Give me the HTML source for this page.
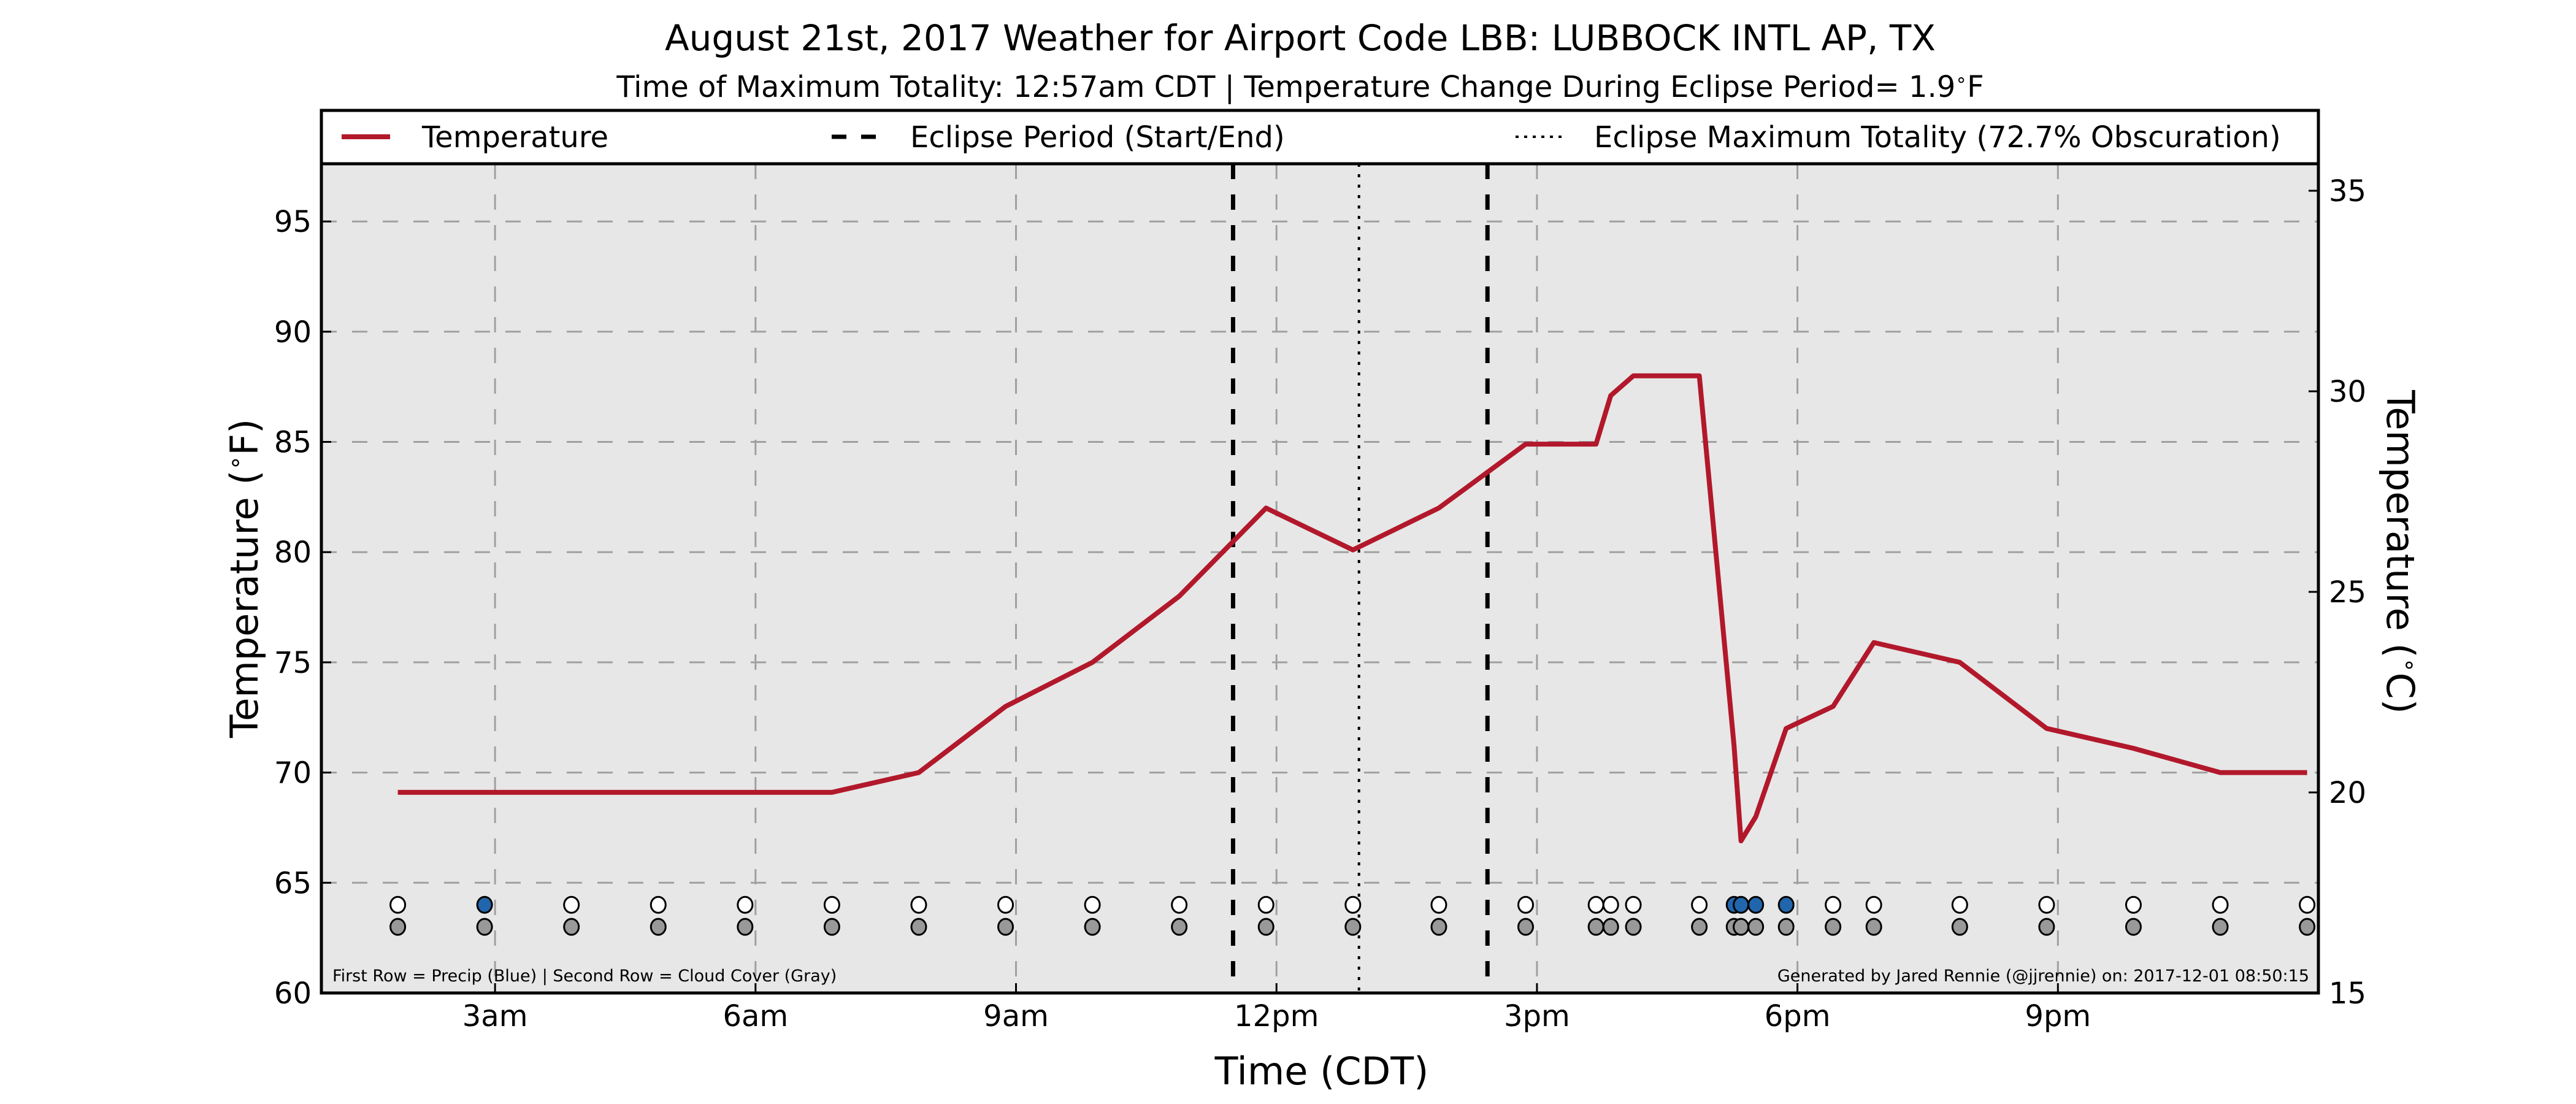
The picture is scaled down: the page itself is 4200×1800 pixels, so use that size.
<!DOCTYPE html>
<html><head><meta charset="utf-8"><style>
html,body{margin:0;padding:0;background:#fff;}
svg{display:block;font-family:"DejaVu Sans","Liberation Sans",sans-serif;}
</style></head><body>
<svg id="chart" width="4200" height="1800" viewBox="0 0 4200 1800" xmlns="http://www.w3.org/2000/svg">
<rect width="4200" height="1800" fill="#fff"/>
<text x="2120" y="82" font-size="58" text-anchor="middle">August 21st, 2017 Weather for Airport Code LBB: LUBBOCK INTL  AP, TX</text>
<text x="2120" y="158" font-size="48" text-anchor="middle">Time of Maximum Totality: 12:57am CDT | Temperature Change During Eclipse Period= 1.9<tspan font-size="30" dy="-18">∘</tspan><tspan dy="18">F</tspan></text>
<g>
<rect x="524" y="180" width="3256" height="87" fill="#fff" stroke="#000" stroke-width="5"/>
<line x1="557" y1="223" x2="636" y2="223" stroke="#b2182b" stroke-width="8"/>
<text x="688" y="240" font-size="48">Temperature</text>
<line x1="1356" y1="223" x2="1436" y2="223" stroke="#000" stroke-width="7" stroke-dasharray="24,24"/>
<text x="1484" y="240" font-size="48">Eclipse Period (Start/End)</text>
<line x1="2471" y1="223" x2="2551" y2="223" stroke="#000" stroke-width="4" stroke-dasharray="5,9"/>
<text x="2599" y="240" font-size="48">Eclipse Maximum Totality (72.7% Obscuration)</text>
</g>
<rect x="524" y="267" width="3256" height="1352" fill="#e7e7e7"/>
<g id="grid"></g>
<g id="marks"></g>
<rect x="524" y="267" width="3256" height="1352" fill="none" stroke="#000" stroke-width="5"/>
<g id="axes"></g>
<text x="542" y="1600" font-size="27">First Row = Precip (Blue) | Second Row = Cloud Cover (Gray)</text>
<text x="3765" y="1600" font-size="27" text-anchor="end">Generated by Jared Rennie (@jjrennie) on: 2017-12-01 08:50:15</text>
<text x="2155" y="1768" font-size="62" text-anchor="middle">Time (CDT)</text>
<text transform="translate(420,943) rotate(-90)" font-size="62" text-anchor="middle">Temperature (<tspan font-size="38" dy="-24">∘</tspan><tspan dy="24">F)</tspan></text>
<text transform="translate(3892,900) rotate(90)" font-size="62" text-anchor="middle">Temperature (<tspan font-size="38" dy="-24">∘</tspan><tspan dy="24">C)</tspan></text>
</svg>
<script>
const times = [1.88,2.88,3.88,4.88,5.88,6.88,7.88,8.88,9.88,10.88,11.88,12.88,13.87,14.87,15.68,15.85,16.11,16.87,17.27,17.35,17.52,17.87,18.41,18.88,19.87,20.87,21.87,22.87,23.87];
const tempsF = [69.1,69.1,69.1,69.1,69.1,69.1,70,73,75,78,82,80.1,82,84.9,84.9,87.1,88,88,71.2,66.9,68,72,73,75.9,75,72,71.1,70,70];
const precip = [0,1,0,0,0,0,0,0,0,0,0,0,0,0,0,0,0,0,1,1,1,1,0,0,0,0,0,0,0];
const eclipseTimes = [11.5,14.43];
const maxTotality = [12.95];
const xTickHours = [3,6,9,12,15,18,21];
const xTickLabels = ["3am","6am","9am","12pm","3pm","6pm","9pm"];
const yTicksF = [60,65,70,75,80,85,90,95];
const yTicksC = [15,20,25,30,35];

const NS="http://www.w3.org/2000/svg";
const L=524,R=3780,T=267,B=1619;
function x(h){return L+(h-1)/(24-1)*(R-L);}
function yF(f){return B-(f-60)/5*179.7;}
function yC(c){return B-(c-15)/5*327;}
function mk(tag,attrs,parent){const e=document.createElementNS(NS,tag);for(const k in attrs)e.setAttribute(k,attrs[k]);parent.appendChild(e);return e;}
const grid=document.getElementById('grid'),marks=document.getElementById('marks'),axes=document.getElementById('axes');

yTicksF.forEach(f=>{
  if(f>60){const g=mk('line',{x1:L,x2:R,y1:yF(f),y2:yF(f),stroke:'#a0a0a0','stroke-width':3,'stroke-dasharray':'25,25'},grid);
  
  }
  const t=mk('text',{x:508,y:yF(f)+17,'font-size':48,'text-anchor':'end'},axes);t.textContent=f;
  
  
  mk('line',{x1:L,x2:L+16,y1:yF(f),y2:yF(f),stroke:'#000','stroke-width':3},axes);
});
yTicksC.forEach(c=>{
  const t=mk('text',{x:3797,y:yC(c)+17,'font-size':48},axes);t.textContent=c;
  
  
  mk('line',{x1:R-16,x2:R,y1:yC(c),y2:yC(c),stroke:'#000','stroke-width':3},axes);
});
xTickHours.forEach((h,i)=>{
  const g=mk('line',{x1:x(h),x2:x(h),y1:T,y2:B,stroke:'#a0a0a0','stroke-width':3,'stroke-dasharray':'25,25'},grid);
  
  
  const t=mk('text',{x:x(h),y:1673,'font-size':48,'text-anchor':'middle'},axes);t.textContent=xTickLabels[i];
  
  
  mk('line',{x1:x(h),x2:x(h),y1:B-16,y2:B,stroke:'#000','stroke-width':3},axes);
});
eclipseTimes.forEach(h=>{
  const l=mk('line',{x1:x(h),x2:x(h),y1:T,y2:B,stroke:'#000','stroke-width':7,'stroke-dasharray':'25,25'},marks);
  
  
});
maxTotality.forEach(h=>{
  const l=mk('line',{x1:x(h),x2:x(h),y1:T,y2:B,stroke:'#000','stroke-width':4,'stroke-dasharray':'5,12'},marks);
  
  
});
const pts=times.map((h,i)=>x(h).toFixed(1)+','+yF(tempsF[i]).toFixed(1)).join(' ');
const line=mk('polyline',{points:pts,fill:'none',stroke:'#b2182b','stroke-width':8,'stroke-linejoin':'round'},marks);


times.forEach((h,i)=>{
  const p=mk('ellipse',{cx:x(h),cy:yF(64),rx:12,ry:13,fill:precip[i]?'#2166ac':'#fff',stroke:'#000','stroke-width':3},marks);
  
  
  const c=mk('ellipse',{cx:x(h),cy:yF(63),rx:12,ry:13,fill:'#999',stroke:'#000','stroke-width':3},marks);
  
  
});
</script>
</body></html>
